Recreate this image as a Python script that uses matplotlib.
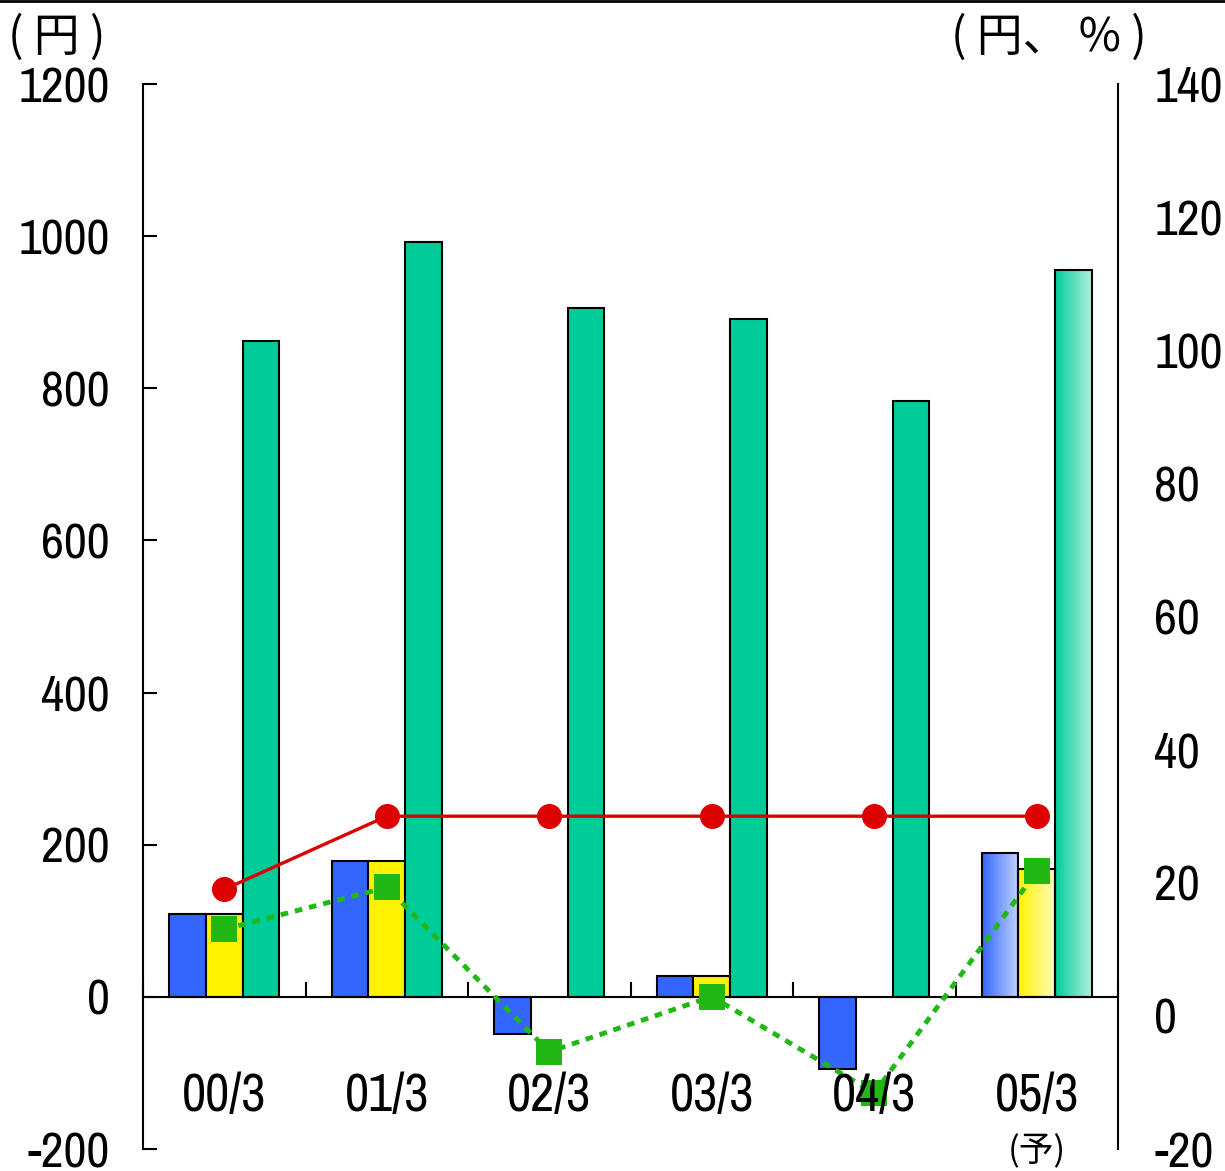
import numpy as np
import matplotlib
matplotlib.use("Agg")
import matplotlib.pyplot as plt
from matplotlib.colors import LinearSegmentedColormap

# data
labels = ['00/3', '01/3', '02/3', '03/3', '04/3', '05/3']
blue_vals = [109, 179, -49, 28, -95, 189]
yellow_vals = [109, 179, np.nan, 28, np.nan, 168]
green_vals = [862, 992, 905, 891, 783, 955]
red_line = [19, 30, 30, 30, 30, 30]
green_line = [13.0, 19.3, -5.4, 2.9, -11.6, 21.7]
left_ticks = [-200, 0, 200, 400, 600, 800, 1000, 1200]
right_ticks = [-20, 0, 20, 40, 60, 80, 100, 120, 140]
forecast = 5  # last group is a forecast, drawn with gradients

plt.rcParams['lines.scale_dashes'] = False
num_font = ['Archivo Narrow', 'Roboto Condensed', 'Liberation Sans', 'DejaVu Sans']
cjk_font = ['Noto Sans CJK JP', 'DejaVu Sans']

W, H = 1225, 1171
fig = plt.figure(figsize=(W / 100, H / 100), dpi=100)
ax1 = fig.add_axes([143 / W, 1 - 1149 / H, (1118 - 143) / W, (1149 - 84) / H])
ax2 = ax1.twinx()

x = np.arange(len(labels))
bw = 0.225
c_blue, c_yel, c_grn = '#3366FF', '#FFF200', '#00CC99'

series = [(blue_vals, -bw, c_blue, '#C4D4FF'),
          (yellow_vals, 0, c_yel, '#FFFBB8'),
          (green_vals, bw, c_grn, '#B0F0DD')]

for vals, off, col, pale in series:
    bars = ax1.bar(x + off, vals, width=bw, color=col, edgecolor='black',
                   linewidth=1.5, zorder=2)
    # gradient fill for the forecast bar
    b = bars[forecast]
    bx, by = b.get_x(), b.get_y()
    bwid, bh = b.get_width(), b.get_height()
    cmap = LinearSegmentedColormap.from_list('g', [col, pale])
    grad = np.linspace(0, 1, 256).reshape(1, -1)
    im = ax1.imshow(grad, cmap=cmap, aspect='auto', zorder=2.1,
                    extent=[bx, bx + bwid, by, by + bh], origin='lower')
    im.set_clip_path(b)
    b.set_facecolor('none')
    b.set_zorder(2.2)

ax1.set_xlim(-0.5, len(labels) - 0.5)
ax1.set_ylim(-200, 1200)
ax1.set_yticks(left_ticks)
ax1.set_yticklabels([str(v) for v in left_ticks], family=num_font, fontsize=36)
ax1.tick_params(axis='y', direction='in', length=10, width=1.5, pad=24)

# zero line as bottom spine with category boundary ticks pointing up
ax1.spines['bottom'].set_position(('data', 0))
ax1.spines['bottom'].set_linewidth(1.5)
ax1.spines['top'].set_visible(False)
ax1.spines['right'].set_visible(False)
ax1.spines['left'].set_linewidth(1.5)
ax1.set_xticks(np.arange(len(labels) + 1) - 0.5)
ax1.tick_params(axis='x', direction='in', length=11, width=1.5, labelbottom=False)

ax2.set_ylim(-20, 140)
ax2.set_yticks(right_ticks)
ax2.set_yticklabels([str(v) for v in right_ticks], family=num_font, fontsize=36)
ax2.tick_params(axis='y', length=0, pad=26)
for s in ['top', 'left', 'bottom']:
    ax2.spines[s].set_visible(False)
ax2.spines['right'].set_linewidth(1.5)

ax2.plot(x, red_line, color='#DD0000', linewidth=2.4, marker='o',
         markersize=17, zorder=3)
ax2.plot(x, green_line, color='#22B814', linewidth=3.5, dashes=(5.5, 5),
         marker='s', markersize=19, markeredgewidth=0, zorder=3)

# category labels on top of everything
for xi, lab in zip(x, labels):
    ax2.text(xi, 0.05, lab, transform=ax2.get_xaxis_transform(), ha='center',
             va='center', family=num_font, fontsize=38, zorder=10, clip_on=False)
ax2.text(x[forecast], -0.003, '(予)', transform=ax2.get_xaxis_transform(),
         ha='center', va='center', family=cjk_font, fontsize=25, zorder=10,
         clip_on=False)

fig.text(8 / W, 1 - 38 / H, '( 円 )', family=cjk_font, fontsize=33,
         ha='left', va='center')
fig.text(1147 / W, 1 - 38 / H, '( 円、 % )', family=cjk_font, fontsize=33,
         ha='right', va='center')

# frame line along the top of the picture
fig.add_artist(plt.Line2D([0, 1], [0.999, 0.999], color='black', linewidth=2,
                          transform=fig.transFigure))

fig.savefig('out.png', dpi=100)
